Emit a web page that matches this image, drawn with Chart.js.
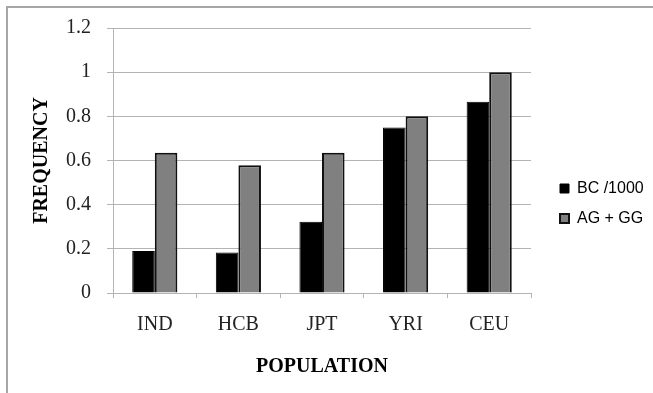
<!DOCTYPE html>
<html>
<head>
<meta charset="utf-8">
<script src="https://cdn.jsdelivr.net/npm/chart.js@4.4.0/dist/chart.umd.min.js"></script>
<style>
  html, body { margin: 0; padding: 0; background: #fff; overflow: hidden; }
  #wrap { position: relative; width: 653px; height: 393px; }
  #frame {
    position: absolute; left: 6px; top: 6px; width: 700px; height: 450px;
    border-top: 2px solid #a6a6a6; border-left: 2px solid #a6a6a6;
  }
  canvas { position: absolute; left: 0; top: 0; }
</style>
</head>
<body>
<div id="wrap">
  <div id="frame"></div>
  <canvas id="freqChart" width="653" height="393"></canvas>
</div>
<script>
// data
const populations = ["IND", "HCB", "JPT", "YRI", "CEU"];
const bcValues = [0.19, 0.183, 0.323, 0.75, 0.866];
const agggValues = [0.635, 0.578, 0.635, 0.8, 1.0];
const yTickValues = [0, 0.2, 0.4, 0.6, 0.8, 1, 1.2];

const serif = "'Liberation Serif', 'Times New Roman', serif";

// nudge the legend to the right, like the original
const legendShift = {
  id: "legendShift",
  afterLayout(chart) {
    if (chart.legend) chart.legend.left += 15;
  },
};

const ctx = document.getElementById("freqChart").getContext("2d");

const chart = new Chart(ctx, {
  type: "bar",
  data: {
    labels: populations,
    datasets: [
      {
        label: "BC /1000",
        data: bcValues,
        backgroundColor: "#000000",
        borderColor: "#000000",
        borderWidth: 1,
      },
      {
        label: "AG + GG",
        data: agggValues,
        backgroundColor: "#808080",
        borderColor: "#111111",
        borderWidth: 2,
      },
    ],
  },
  options: {
    responsive: false,
    animation: false,
    categoryPercentage: 0.54,
    barPercentage: 1,
    layout: {
      padding: { left: 20, right: 8, top: 28, bottom: 14 },
    },
    plugins: {
      tooltip: { enabled: false },
      legend: {
        position: "right",
        labels: {
          boxWidth: 9,
          boxHeight: 9,
          padding: 14,
          color: "#000",
          font: { family: "'Liberation Sans', Arial, sans-serif", size: 16 },
        },
      },
    },
    scales: {
      x: {
        grid: {
          offset: true,
          drawOnChartArea: false,
          color: "#b3b3b3",
          tickLength: 5,
        },
        border: { color: "#b3b3b3" },
        ticks: {
          color: "#222",
          padding: 15,
          font: { family: serif, size: 20 },
        },
        title: {
          display: true,
          text: "POPULATION",
          color: "#000",
          padding: { top: 0, bottom: 0 },
          font: { family: serif, size: 20, weight: "bold" },
        },
        afterFit: function (scale) {
          scale.height = 393 - 293 - 14;
        },
      },
      y: {
        min: 0,
        max: 1.2,
        afterBuildTicks: function (scale) {
          scale.ticks = yTickValues.map((v) => ({ value: v }));
        },
        grid: {
          color: "#b3b3b3",
          tickLength: 6,
        },
        border: { color: "#b3b3b3" },
        ticks: {
          color: "#222",
          padding: 16,
          font: { family: serif, size: 20 },
          callback: function (value) {
            return String(value);
          },
        },
        title: {
          display: true,
          text: "FREQUENCY",
          color: "#000",
          padding: { top: 10, bottom: 0 },
          font: { family: serif, size: 20, weight: "bold" },
        },
        afterFit: function (scale) {
          scale.width = 113 - 20;
        },
      },
    },
  },
  plugins: [legendShift],
});

// fixed legend width so the plot ends where the original does
const baseFit = chart.legend.fit;
chart.legend.fit = function () {
  baseFit.call(this);
  this.width = 653 - 531 - 8;
};
chart.update();
</script>
</body>
</html>
